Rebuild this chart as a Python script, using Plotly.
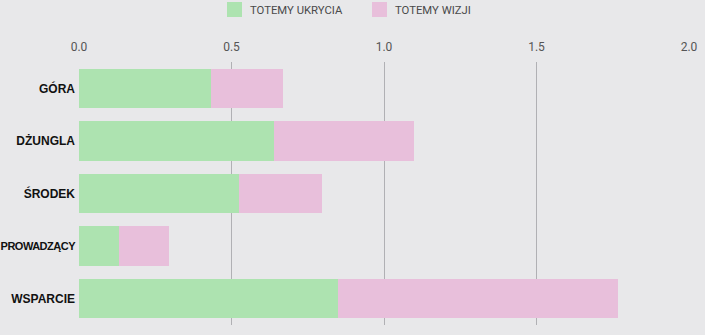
import plotly.graph_objects as go

categories = ["GÓRA", "DŻUNGLA", "ŚRODEK", "PROWADZĄCY", "WSPARCIE"]
ukrycia = [0.433, 0.639, 0.525, 0.131, 0.849]
wizji = [0.236, 0.459, 0.272, 0.164, 0.918]
tick_vals = [0.0, 0.5, 1.0, 1.5, 2.0]
tick_text = ["0.0", "0.5", "1.0", "1.5", "2.0"]
series_names = ["TOTEMY UKRYCIA", "TOTEMY WIZJI"]

GREEN = "#ade3b0"
PINK = "#e8bfdb"
BG = "#e8e8ea"

W, H = 705, 335
L, R, T, B = 79, 16, 62, 10
PW, PH = W - L - R, H - T - B

fig = go.Figure()
fig.add_trace(go.Bar(y=categories, x=ukrycia, orientation="h", name=series_names[0],
                     marker=dict(color=GREEN, line=dict(width=0)), showlegend=False))
fig.add_trace(go.Bar(y=categories, x=wizji, orientation="h", name=series_names[1],
                     marker=dict(color=PINK, line=dict(width=0)), showlegend=False))

# manual legend (pixel positions converted to paper coordinates)
def px(x):
    return (x - L) / PW

def py(y):
    return (H - B - y) / PH

legend_items = [(227, GREEN, series_names[0]), (372, PINK, series_names[1])]
for x0, col, name in legend_items:
    fig.add_shape(type="rect", xref="paper", yref="paper",
                  x0=px(x0), x1=px(x0 + 15), y0=py(17), y1=py(2),
                  fillcolor=col, line=dict(width=0), layer="above")
    fig.add_annotation(xref="paper", yref="paper", x=px(x0 + 23), y=py(10),
                       text=name, showarrow=False, xanchor="left", yanchor="middle",
                       xshift=-2,
                       font=dict(family="Roboto", size=11.3, color="#4a4a4a"))

ytext = [c if len(c) < 10 else '<span style="font-size:11px;letter-spacing:-0.5px">' + c + "</span>"
         for c in categories]

fig.update_layout(
    barmode="stack",
    bargap=0.25,
    width=W, height=H,
    margin=dict(l=L, r=R, t=T, b=B),
    paper_bgcolor=BG, plot_bgcolor=BG,
    xaxis=dict(side="top", range=[0, 2.0], tickvals=tick_vals, ticktext=tick_text,
               showgrid=True, gridcolor="#b0b0b4", gridwidth=1, zeroline=False,
               showline=False, ticks="", ticklabelstandoff=8, automargin=False,
               tickfont=dict(family="Roboto", size=12, color="#555555")),
    yaxis=dict(autorange="reversed", showgrid=False, zeroline=False, showline=False,
               ticks="", ticklabelstandoff=3, automargin=False,
               tickmode="array", tickvals=categories, ticktext=ytext,
               tickfont=dict(family="Liberation Sans", size=12, color="#111111", weight="bold")),
)

fig.write_html("out.html")
